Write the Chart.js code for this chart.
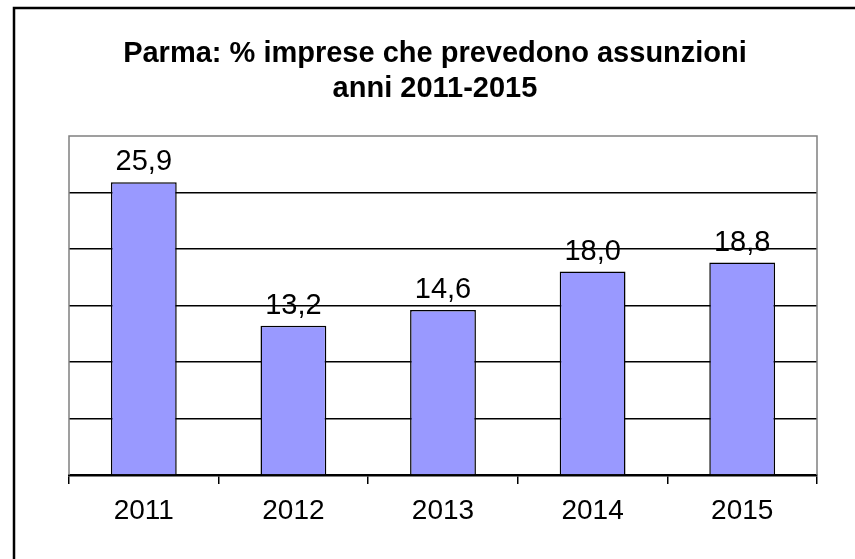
<!DOCTYPE html>
<html>
<head>
<meta charset="utf-8">
<script src="https://cdn.jsdelivr.net/npm/chart.js@4"></script>
<style>
    html, body { margin: 0; padding: 0; background: #fff; }
    #wrap { width: 855px; height: 559px; position: relative; }
</style>
</head>
<body>
<div id="wrap"><canvas id="chart"></canvas></div>
<script>
const TITLE_LINES = ['Parma: % imprese che prevedono assunzioni', 'anni 2011-2015'];
const YEARS = ['2011', '2012', '2013', '2014', '2015'];
const SHARES = [25.9, 13.2, 14.6, 18.0, 18.8];
const Y_MAX = 30;
const Y_STEP = 5;

const FONT = '"Liberation Sans", Arial, sans-serif';

// title, outer frame and the grey plot frame
const decorations = {
    id: 'decorations',
    beforeDraw(chart) {
        const ctx = chart.ctx;
        ctx.save();
        ctx.fillStyle = '#fff';
        ctx.fillRect(0, 0, chart.width, chart.height);
        ctx.strokeStyle = '#000';
        ctx.lineWidth = 2.5;
        ctx.strokeRect(14, 8, chart.width, chart.height);
        ctx.restore();
    },
    beforeDatasetsDraw(chart) {
        const { ctx, chartArea: a } = chart;
        ctx.save();
        ctx.strokeStyle = '#808080';
        ctx.lineWidth = 1.5;
        ctx.beginPath();
        ctx.moveTo(a.left, a.bottom);
        ctx.lineTo(a.left, a.top);
        ctx.lineTo(a.right, a.top);
        ctx.lineTo(a.right, a.bottom);
        ctx.stroke();
        ctx.restore();
    },
    afterDraw(chart) {
        const ctx = chart.ctx;
        ctx.save();
        ctx.fillStyle = '#000';
        ctx.font = 'bold 29px ' + FONT;
        ctx.textAlign = 'center';
        ctx.textBaseline = 'alphabetic';
        ctx.fillText(TITLE_LINES[0], 435, 62);
        ctx.fillText(TITLE_LINES[1], 435, 97);
        ctx.restore();
    }
};

const valueLabels = {
    id: 'valueLabels',
    afterDatasetsDraw(chart) {
        const ctx = chart.ctx;
        const meta = chart.getDatasetMeta(0);
        ctx.save();
        ctx.fillStyle = '#000';
        ctx.font = '29px ' + FONT;
        ctx.textAlign = 'center';
        ctx.textBaseline = 'alphabetic';
        meta.data.forEach((bar, i) => {
            const txt = SHARES[i].toFixed(1).replace('.', ',');
            ctx.fillText(txt, bar.x, bar.y - 12);
        });
        ctx.restore();
    }
};

new Chart(document.getElementById('chart'), {
    type: 'bar',
    data: {
        labels: YEARS,
        datasets: [{
            data: SHARES,
            backgroundColor: '#9999FF',
            borderColor: '#000',
            borderWidth: 1.5,
            barPercentage: 0.44,
            categoryPercentage: 1
        }]
    },
    options: {
        responsive: true,
        maintainAspectRatio: false,
        animation: false,
        layout: { padding: { top: 136, left: 69, right: 38, bottom: 0 } },
        plugins: {
            legend: { display: false },
            title: { display: false },
            tooltip: { enabled: false }
        },
        scales: {
            x: {
                afterFit: s => { s.height = 84; },
                grid: {
                    offset: true,
                    drawOnChartArea: false,
                    tickLength: 9,
                    color: '#000',
                    lineWidth: 1.5
                },
                border: { color: '#000', width: 2.5 },
                ticks: {
                    color: '#000',
                    font: { family: FONT, size: 28 },
                    padding: 10
                }
            },
            y: {
                min: 0,
                max: Y_MAX,
                ticks: { display: false, stepSize: Y_STEP },
                afterFit: s => { s.width = 0; },
                border: { display: false },
                grid: {
                    drawTicks: false,
                    lineWidth: 1.5,
                    color: c => (c.tick.value === 0 || c.tick.value === Y_MAX) ? 'rgba(0,0,0,0)' : '#000'
                }
            }
        }
    },
    plugins: [decorations, valueLabels]
});
</script>
</body>
</html>
